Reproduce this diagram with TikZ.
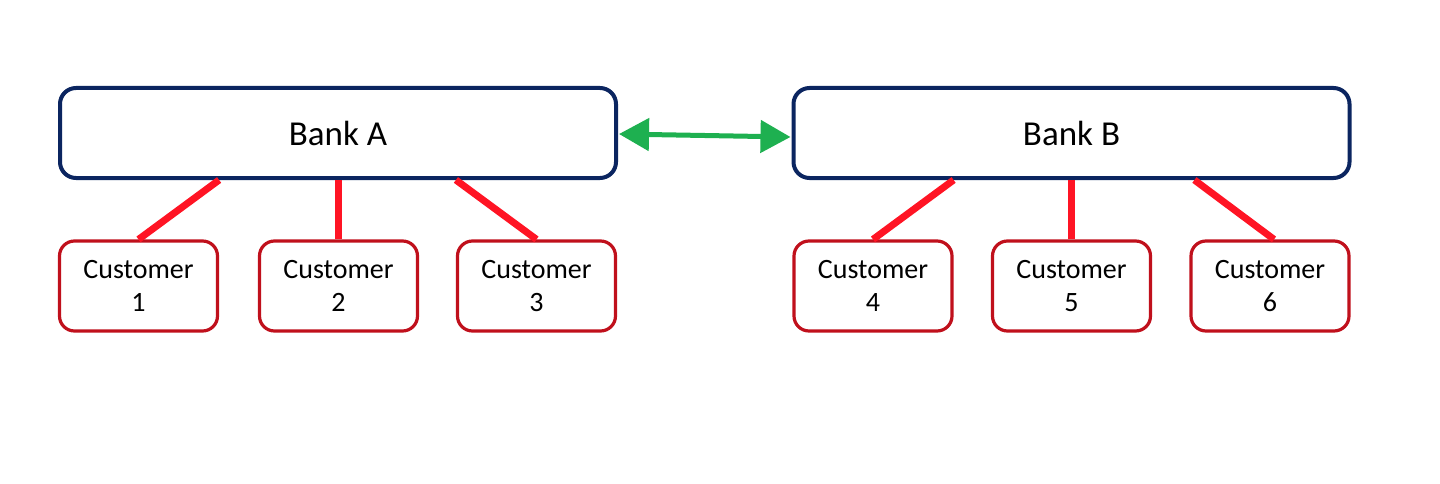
\documentclass[tikz,border=0pt]{standalone}
\usepackage{fontspec}
\setmainfont{Carlito}
\usetikzlibrary{arrows.meta}
\definecolor{bankblue}{HTML}{0B2560}
\definecolor{custred}{HTML}{C0101C}
\definecolor{linkred}{HTML}{FF1424}
\definecolor{peergreen}{HTML}{1EB050}
\tikzset{
  bankbox/.style={draw=bankblue, line width=4pt, rounded corners=16pt, fill=white,
    minimum width=556pt, minimum height=90pt, inner sep=0pt,
    font=\fontsize{35}{40}\selectfont},
  custbox/.style={draw=custred, line width=3.2pt, rounded corners=15pt, fill=white,
    minimum width=158pt, minimum height=90pt, inner sep=0pt, align=center,
    font=\fontsize{28}{33}\selectfont},
  link/.style={draw=linkred, line width=7pt},
  peer/.style={draw=peergreen, line width=5pt,
    {Triangle[length=30pt,width=32pt]}-{Triangle[length=30pt,width=32pt]}}
}
\begin{document}
\begin{tikzpicture}[x=1pt,y=-1pt]
\useasboundingbox (0,0) rectangle (1440,484);
% banks
\node[bankbox] (bankA) at (338,133) {Bank A};
\node[bankbox] (bankB) at (1071.5,133) {Bank B};
% customers
\node[custbox] (c1) at (138.5,286) {Customer\\1};
\node[custbox] (c2) at (338.5,286) {Customer\\2};
\node[custbox] (c3) at (536.5,286) {Customer\\3};
\node[custbox] (c4) at (873,286) {Customer\\4};
\node[custbox] (c5) at (1071.5,286) {Customer\\5};
\node[custbox] (c6) at (1270,286) {Customer\\6};
% account links
\draw[link] (c1.north) -- (c1.north east |- bankA.south);
\draw[link] (c2.north) -- (bankA.south -| c2.north);
\draw[link] (c3.north) -- (c3.north west |- bankA.south);
\draw[link] (c4.north) -- (c4.north east |- bankB.south);
\draw[link] (c5.north) -- (bankB.south -| c5.north);
\draw[link] ([xshift=4pt]c6.north) -- ([xshift=5pt]c6.north west |- bankB.south);
% interbank link
\draw[peer] ([xshift=1pt,yshift=-1pt]bankA.east) -- ([xshift=-1pt,yshift=-4pt]bankB.west);
\end{tikzpicture}
\end{document}
